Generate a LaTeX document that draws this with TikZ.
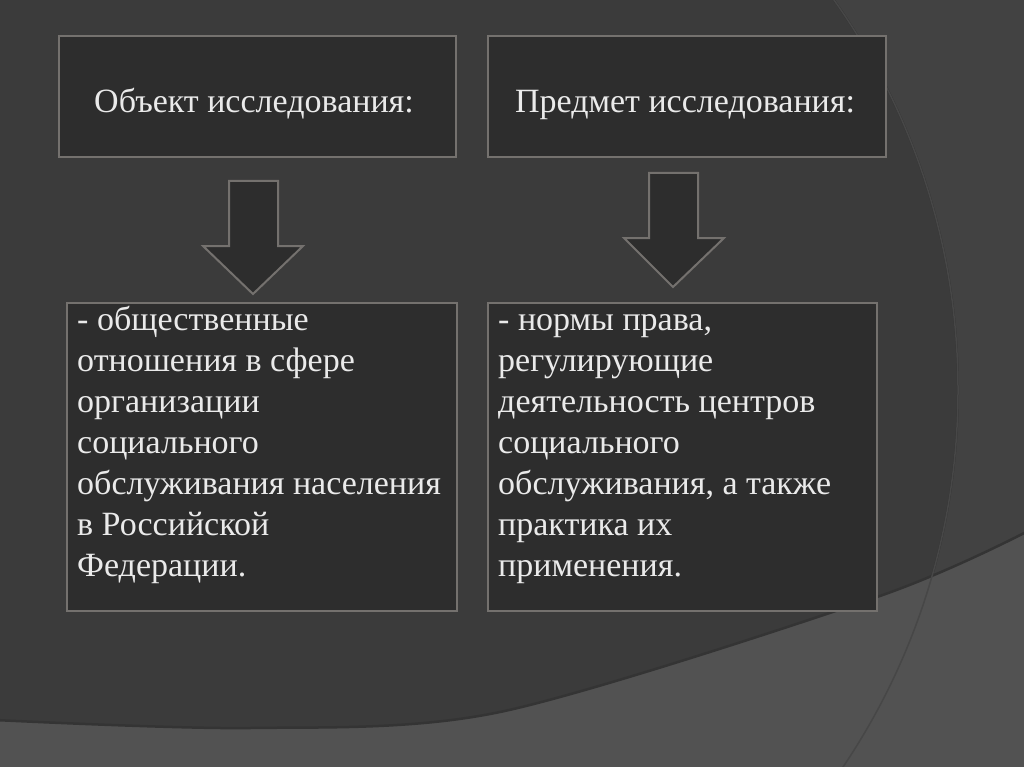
\documentclass[tikz,border=0pt]{standalone}
\usepackage{fontspec}
\setmainfont{Liberation Serif}
\begin{document}
\begin{tikzpicture}[x=1pt,y=-1pt,
  box/.style={draw=boxline, line width=2pt, fill=boxfill, inner sep=0pt, anchor=north west},
  headtext/.style={text=txt, font=\fontsize{34}{41}\selectfont, anchor=base, inner sep=0pt},
  bodytext/.style={text=txt, font=\fontsize{34}{41}\selectfont, anchor=base west, align=left, inner sep=0pt},
  blockarrow/.style={draw=boxline, line width=2pt, fill=boxfill, line join=miter}]
\definecolor{bgout}{HTML}{424242}
\definecolor{bgin}{HTML}{3B3B3B}
\definecolor{bglow}{HTML}{525252}
\definecolor{boxfill}{HTML}{2D2D2D}
\definecolor{boxline}{HTML}{74716E}
\definecolor{txt}{HTML}{EAEAEA}
\definecolor{shadow}{HTML}{343434}
\definecolor{arcline}{HTML}{474747}
\useasboundingbox (0,0) rectangle (1024,767);
% background
\begin{scope}
\clip (0,0) rectangle (1024,767);
\fill[bgout] (0,0) rectangle (1024,767);
\fill[bgin] (283,390) circle [radius=675pt];
\draw[shadow, line width=2pt] (283,390) circle [radius=675pt];
\fill[bglow] plot[smooth] coordinates {(-5,720) (250,728) (500,712) (877,597) (1030,530)} -- (1030,770) -- (-5,770) -- cycle;
\draw[shadow, line width=2.5pt] plot[smooth] coordinates {(-5,720) (250,728) (500,712) (877,597) (1030,530)};
\draw[arcline, line width=1.5pt] (283,390) circle [radius=675pt];
\end{scope}
% boxes
\node[box, minimum width=397pt, minimum height=121pt] (b1) at (58,35) {};
\node[box, minimum width=398pt, minimum height=121pt] (b2) at (487,35) {};
\node[box, minimum width=390pt, minimum height=308pt] (b3) at (66,302) {};
\node[box, minimum width=389pt, minimum height=308pt] (b4) at (487,302) {};
% header texts
\node[headtext] (h1) at (254,113) {Объект исследования:};
\node[headtext] (h2) at (685,113) {Предмет исследования:};
% body texts (anchor = baseline of the last line)
\node[bodytext] (t3) at (77,576) {- общественные\\отношения в сфере\\организации\\социального\\обслуживания населения\\в Российской\\Федерации.};
\node[bodytext] (t4) at (498,576) {- нормы права,\\регулирующие\\деятельность центров\\социального\\обслуживания, а также\\практика их\\применения.};
% block arrows
\draw[blockarrow] (229,181) -- (278,181) -- (278,246) -- (303,246) -- (253,294) -- (203,246) -- (229,246) -- cycle;
\draw[blockarrow] (649,173) -- (698,173) -- (698,238) -- (724,238) -- (673,287) -- (624,238) -- (649,238) -- cycle;
\end{tikzpicture}
\end{document}
